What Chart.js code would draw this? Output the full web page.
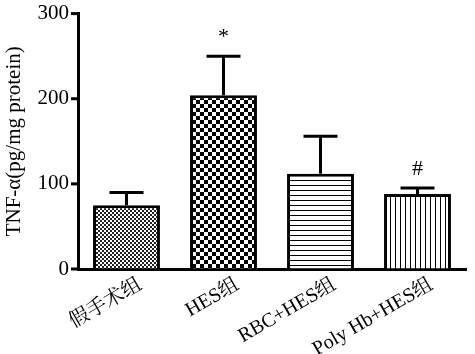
<!DOCTYPE html>
<html>
<head>
<meta charset="utf-8">
<script src="https://cdn.jsdelivr.net/npm/chart.js@4"></script>
<style>
  body { margin: 0; background: #fff; }
  #wrap { width: 475px; height: 354px; }
</style>
</head>
<body>
<div id="wrap"><canvas id="tnfChart" width="475" height="354"></canvas></div>
<script>
const groups = ['假手术组', 'HES组', 'RBC+HES组', 'Poly Hb+HES组'];
const tnfMeans = [75, 204, 112, 88];
const tnfErrors = [15, 46, 44, 7];
const sigMarks = ['', '*', '', '#'];
const yTicks = [0, 100, 200, 300];

function makePattern(kind) {
    const c = document.createElement('canvas');
    const g = c.getContext('2d');
    if (kind === 'fine') {
        c.width = 4; c.height = 4;
        g.fillStyle = '#fff'; g.fillRect(0, 0, 4, 4);
        g.fillStyle = '#222';
        g.fillRect(0, 0, 2, 2); g.fillRect(2, 2, 2, 2);
    } else if (kind === 'checker') {
        c.width = 8; c.height = 8;
        g.fillStyle = '#fff'; g.fillRect(0, 0, 8, 8);
        g.fillStyle = '#000';
        g.fillRect(0, 0, 4, 4); g.fillRect(4, 4, 4, 4);
    } else if (kind === 'hlines') {
        c.width = 5; c.height = 5;
        g.fillStyle = '#fff'; g.fillRect(0, 0, 5, 5);
        g.fillStyle = '#000'; g.fillRect(0, 0, 5, 1);
    } else {
        c.width = 5; c.height = 5;
        g.fillStyle = '#fff'; g.fillRect(0, 0, 5, 5);
        g.fillStyle = '#000'; g.fillRect(0, 0, 1, 5);
    }
    return g.createPattern(c, 'repeat');
}

const errorBarPlugin = {
    id: 'errorBars',
    afterDatasetsDraw(chart) {
        const ctx = chart.ctx;
        const meta = chart.getDatasetMeta(0);
        const y = chart.scales.y;
        ctx.save();
        ctx.strokeStyle = '#000';
        ctx.lineWidth = 3;
        ctx.fillStyle = '#000';
        ctx.textAlign = 'center';
        ctx.font = '22px "Liberation Serif"';
        meta.data.forEach((bar, i) => {
            const top = y.getPixelForValue(tnfMeans[i] + tnfErrors[i]);
            const base = y.getPixelForValue(tnfMeans[i]);
            ctx.beginPath();
            ctx.moveTo(bar.x, base);
            ctx.lineTo(bar.x, top);
            ctx.moveTo(bar.x - 17, top);
            ctx.lineTo(bar.x + 17, top);
            ctx.stroke();
            if (sigMarks[i]) {
                ctx.textBaseline = 'bottom';
                ctx.fillText(sigMarks[i], bar.x, top - 8);
            }
        });
        // y tick marks pointing left
        yTicks.forEach(v => {
            const py = y.getPixelForValue(v);
            ctx.beginPath();
            ctx.moveTo(y.right - 7, py);
            ctx.lineTo(y.right, py);
            ctx.stroke();
        });
        ctx.restore();
    }
};

new Chart(document.getElementById('tnfChart'), {
    type: 'bar',
    data: {
        labels: groups,
        datasets: [{
            data: tnfMeans,
            backgroundColor: [makePattern('fine'), makePattern('checker'), makePattern('hlines'), makePattern('vlines')],
            borderColor: '#000',
            borderWidth: 3,
            borderSkipped: 'bottom',
            categoryPercentage: 1,
            barPercentage: 0.69
        }]
    },
    options: {
        responsive: false,
        animation: false,
        layout: { padding: { top: 1, right: 9 } },
        plugins: { legend: { display: false }, tooltip: { enabled: false } },
        scales: {
            x: {
                grid: { display: false, drawTicks: false },
                border: { color: '#000', width: 3 },
                ticks: {
                    color: '#000',
                    font: { family: '"Liberation Serif", "Noto Serif CJK SC", "Noto Sans CJK SC"', size: 20 },
                    minRotation: 30,
                    maxRotation: 30,
                    padding: 4,
                    labelOffset: 14
                },
                afterFit(scale) { scale.height = 85; }
            },
            y: {
                min: 0,
                max: 300,
                afterBuildTicks(scale) { scale.ticks = yTicks.map(v => ({ value: v })); },
                grid: { display: true, drawOnChartArea: false, drawTicks: true, tickLength: 8, tickColor: 'rgba(0,0,0,0)' },
                border: { color: '#000', width: 3 },
                ticks: {
                    color: '#000',
                    font: { family: '"Liberation Serif"', size: 21 },
                    padding: 1
                },
                title: {
                    display: true,
                    text: 'TNF-α(pg/mg protein)',
                    color: '#000',
                    font: { family: '"Liberation Serif"', size: 21 },
                    padding: 2
                },
                afterFit(scale) { scale.width = 78; }
            }
        }
    },
    plugins: [errorBarPlugin]
});
</script>
</body>
</html>
